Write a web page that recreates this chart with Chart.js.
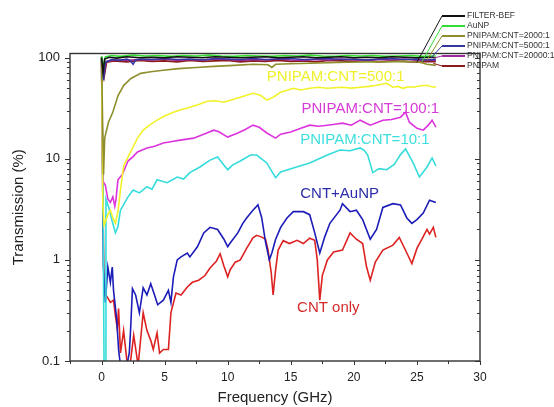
<!DOCTYPE html>
<html>
<head>
<meta charset="utf-8">
<title>Transmission</title>
<script src="https://cdn.jsdelivr.net/npm/chart.js@4.4.0/dist/chart.umd.min.js"></script>
<style>
  body { margin: 0; background: #fff; }
  #myChart { display: block; }
</style>
</head>
<body>
<canvas id="myChart" width="554" height="407"></canvas>
<script>
// fréquences (GHz) et transmissions (%) de chaque échantillon
let freqFilter = [0, 0.12, 0.25, 0.6, 1.2, 2, 3, 4, 5, 6, 7, 8, 9, 10, 11, 12, 13, 14, 15, 16, 17, 18, 19, 20, 21, 22, 23, 24, 25, 26, 26.5];
let transFilter = [100, 72, 97, 101, 99, 102, 100, 101, 100, 102, 101, 100, 102, 101, 100, 101, 102, 100, 101, 102, 100, 101, 102, 100, 101, 100, 102, 101, 100, 101, 100];

let freqAuNP = [0, 0.15, 0.3, 0.8, 1.5, 2.5, 3.5, 4.5, 5.5, 6.5, 7.5, 8.5, 9.5, 10.5, 11.5, 12.5, 13.5, 14.5, 15.5, 16.5, 17.5, 18.5, 19.5, 20.5, 21.5, 22.5, 23.5, 24.5, 25.5, 26.5];
let transAuNP = [104, 80, 102, 105, 103, 106, 104, 105, 103, 105, 104, 106, 104, 103, 105, 104, 103, 105, 104, 106, 104, 103, 105, 104, 105, 103, 104, 105, 103, 104];

let freq2000 = [0, 0.1, 0.16, 0.25, 0.55, 0.9, 1.3, 1.75, 2.3, 3.1, 3.9, 4.9, 6.1, 7.5, 8.9, 10.5, 12.0, 13.2, 13.5, 13.8, 15, 16.5, 18, 19.5, 21, 22.5, 24, 25.2, 25.8, 26.5];
let trans2000 = [100, 18, 7, 16, 23, 29, 42, 53, 62, 70, 72.5, 75, 78, 80, 82, 84, 86, 85, 80, 86, 87, 88, 89, 90, 91, 91, 92, 90, 86, 84];

let freq5000 = [0, 0.15, 0.3, 0.8, 1.4, 2.0, 2.3, 2.5, 2.7, 3.2, 4, 5, 6, 7, 8, 9, 10, 11, 12, 13, 14, 15, 16, 17, 18, 19, 20, 21, 22, 23, 24, 25, 26, 26.5];
let trans5000 = [100, 60, 90, 96, 94, 97, 93, 86, 95, 97, 96, 98, 96, 97, 95, 98, 97, 96, 98, 96, 97, 98, 96, 97, 98, 96, 97, 95, 97, 98, 96, 97, 95, 96];

let freq20000 = [0, 0.18, 0.35, 1, 2, 3, 4, 5, 6, 7, 8, 9, 10, 11, 12, 13, 14, 15, 16, 17, 18, 19, 20, 21, 22, 23, 24, 25, 26, 26.5];
let trans20000 = [100, 68, 92, 95, 94, 96, 95, 97, 94, 96, 95, 97, 96, 94, 96, 95, 97, 95, 94, 96, 95, 97, 95, 94, 96, 95, 97, 94, 95, 94];

let freqPnipam = [0, 0.2, 0.4, 1, 2, 3, 4, 5, 6, 7, 8, 9, 10, 11, 12, 13, 14, 15, 16, 17, 18, 19, 20, 21, 22, 23, 24, 25, 26, 26.5];
let transPnipam = [100, 64, 90, 93, 91, 94, 92, 93, 91, 94, 92, 93, 94, 91, 93, 92, 94, 92, 93, 91, 94, 93, 92, 94, 91, 93, 92, 90, 92, 91];

let freq500 = [0, 0.1, 0.2, 0.5, 0.7, 0.9, 1.1, 1.3, 1.5, 1.75, 2.3, 2.85, 3.3, 3.8, 4.4, 5.0, 5.7, 6.3, 7.0, 7.7, 8.4, 9.0, 9.7, 10.2, 11.0, 11.5, 12.0, 12.6, 13.1, 13.6, 14.2, 15.2, 15.8, 16.5, 17.2, 17.9, 18.5, 19.1, 19.8, 20.5, 21.2, 21.8, 22.6, 23.1, 23.5, 23.9, 24.3, 24.7, 25.2, 25.8, 26.3, 26.5];
let trans500 = [100, 3.5, 2.2, 2.8, 3.1, 2.6, 2.3, 3.0, 4.9, 8.5, 11.7, 16.0, 19.2, 21.5, 24.1, 26.5, 28.9, 30.5, 32.4, 34.5, 37.1, 37.5, 36.3, 38.0, 40.6, 42.5, 44.5, 42.5, 38.0, 40.6, 45.5, 49.8, 48, 49.8, 51, 49.8, 50.5, 51, 50, 51, 52, 53.4, 55.8, 51, 52, 49.8, 51.5, 51, 52.5, 53.4, 51, 52];

let freq100 = [0, 0.1, 0.3, 0.5, 0.7, 0.9, 1.05, 1.15, 1.3, 1.65, 2.1, 2.5, 2.85, 3.6, 4.2, 4.9, 5.6, 6.25, 7.3, 8.1, 8.9, 9.3, 10.0, 10.8, 11.4, 12.0, 12.5, 13.1, 13.8, 14.2, 15.0, 15.8, 16.5, 17.2, 17.9, 18.5, 19.1, 19.8, 20.5, 21.3, 22.3, 23.0, 23.7, 24.1, 24.4, 25.0, 25.5, 25.9, 26.2, 26.5];
let trans100 = [95, 6, 5.5, 4.0, 3.7, 4.2, 3.4, 4.0, 6.2, 7.0, 9.5, 10.5, 11.7, 12.8, 13.3, 14.3, 14.8, 15.3, 16.0, 17.5, 19.2, 18.5, 16.4, 18.0, 19.5, 21.5, 20.5, 18.0, 16.0, 17.5, 18.4, 20, 21.5, 21, 21.5, 22.0, 22.5, 21.5, 24.1, 21.5, 24.1, 24.5, 25.8, 28.9, 23.0, 20.0, 19.2, 21.5, 24.1, 20.6];

let freq10 = [0, 0.12, 0.2, 0.28, 0.35, 0.6, 0.85, 1.1, 1.3, 1.5, 2.1, 2.5, 3.0, 3.6, 4.0, 4.4, 5.2, 6.0, 6.5, 7.0, 7.8, 8.6, 9.2, 9.6, 10.0, 10.4, 11.0, 11.8, 12.3, 13.1, 13.8, 14.2, 15.2, 16.5, 17.9, 18.9, 19.7, 20.5, 20.8, 21.1, 21.5, 22.0, 22.6, 23.2, 23.7, 24.1, 24.7, 25.2, 25.8, 26.2, 26.5];
let trans10 = [95, 4.5, 0.08, 0.08, 4.0, 3.2, 2.4, 1.85, 2.13, 3.1, 4.2, 4.9, 4.6, 5.3, 5.0, 6.2, 5.8, 6.6, 6.3, 7.3, 8.3, 9.7, 10.4, 9.0, 7.8, 8.7, 9.5, 10.9, 10.9, 9.1, 6.5, 7.4, 8.1, 9.1, 10.9, 12.2, 12.0, 12.8, 12.2, 10.9, 7.3, 8.0, 7.8, 8.8, 11.0, 12.5, 9.1, 6.6, 8.3, 10.2, 8.5];

let freqCntAu = [0, 0.15, 0.3, 0.5, 0.7, 0.85, 0.95, 1.2, 1.35, 1.5, 2.0, 2.2, 2.3, 2.45, 2.7, 3.0, 3.3, 3.6, 3.9, 4.2, 4.45, 4.9, 5.3, 5.5, 5.7, 6.0, 6.3, 6.8, 7.0, 7.6, 8.1, 8.6, 9.2, 9.7, 10.0, 10.2, 10.8, 11.2, 11.5, 12.0, 12.4, 12.7, 13.0, 13.3, 13.5, 13.8, 14.2, 14.7, 15.2, 16.0, 16.5, 16.9, 17.3, 17.7, 18.1, 18.9, 19.1, 19.7, 20.2, 20.7, 21.3, 21.8, 22.3, 23.1, 23.7, 24.2, 24.6, 25.0, 25.5, 26.0, 26.5];
let transCntAu = [95, 0.85, 0.38, 0.85, 0.6, 0.85, 0.5, 0.26, 0.13, 0.09, 0.09, 0.12, 0.2, 0.52, 0.45, 0.3, 0.53, 0.45, 0.58, 0.45, 0.36, 0.4, 0.5, 0.38, 0.68, 1.0, 1.07, 1.17, 1.07, 1.35, 1.85, 2.1, 2.0, 1.6, 1.35, 1.47, 1.85, 2.3, 2.6, 3.1, 3.5, 2.6, 1.5, 1.0, 1.17, 1.6, 2.1, 2.6, 3.0, 3.0, 2.8, 1.85, 1.17, 1.7, 2.3, 3.1, 3.6, 3.0, 3.1, 2.5, 1.6, 2.0, 3.3, 3.6, 3.5, 2.6, 2.3, 2.5, 2.9, 3.9, 3.7];

let freqCnt = [0, 0.2, 0.35, 0.7, 0.95, 1.1, 1.25, 1.35, 1.5, 1.75, 2.05, 2.3, 2.55, 2.9, 3.3, 3.6, 3.9, 4.1, 4.4, 4.6, 4.9, 5.3, 5.5, 5.9, 6.3, 6.8, 7.2, 7.7, 8.2, 8.6, 9.1, 9.4, 9.7, 10.0, 10.2, 10.6, 11.0, 11.5, 12.0, 12.3, 12.7, 13.0, 13.2, 13.45, 13.6, 13.8, 14.0, 14.4, 14.9, 15.5, 16.0, 16.5, 16.9, 17.1, 17.3, 17.5, 17.9, 18.4, 19.1, 19.7, 20.2, 20.7, 21.0, 21.3, 21.7, 22.3, 23.1, 23.6, 24.2, 24.6, 25.0, 25.5, 25.8, 26.0, 26.3, 26.5];
let transCnt = [95, 0.45, 0.45, 0.38, 0.4, 0.28, 0.21, 0.33, 0.12, 0.2, 0.09, 0.1, 0.18, 0.09, 0.3, 0.2, 0.16, 0.13, 0.19, 0.12, 0.13, 0.13, 0.3, 0.47, 0.45, 0.54, 0.6, 0.63, 0.7, 0.83, 0.97, 1.15, 0.87, 0.68, 0.8, 0.95, 1.0, 1.3, 1.65, 1.75, 1.68, 1.6, 1.25, 0.75, 0.45, 0.8, 1.25, 1.55, 1.45, 1.56, 1.45, 1.64, 1.56, 1.0, 0.4, 0.7, 1.0, 1.2, 1.25, 1.85, 1.6, 1.45, 0.86, 0.63, 0.95, 1.25, 1.4, 1.67, 1.17, 0.92, 1.3, 1.7, 2.0, 1.8, 2.1, 1.67];

// graduations des axes
let freqTicks = [0, 5, 10, 15, 20, 25, 30];
let transTicks = [0.1, 1, 10, 100];

// étiquettes posées dans le graphique (position en GHz / %)
let noteText = ['PNIPAM:CNT=500:1', 'PNIPAM:CNT=100:1', 'PNIPAM:CNT=10:1', 'CNT+AuNP', 'CNT only'];
let noteFreq = [13.1, 15.85, 15.75, 15.75, 15.5];
let noteTrans = [64, 31.5, 15.3, 4.5, 0.335];
let noteColor = ['#f0f02a', '#d63ad6', '#3edede', '#2b2ba8', '#d42a2a'];

// bouts des traits de renvoi de la légende (GHz / %)
let leaderFreq = [25.0, 25.4, 25.8, 26.1, 26.3, 26.3];
let leaderTrans = [90, 91, 95, 99, 99, 88];

const font = 'Liberation Sans, Arial, sans-serif';

// transforme deux tableaux en points {x, y}
function toPoints(freq, trans){
    let points = [];
    for(let i=0; i<freq.length; i++){
        points.push({x: freq[i], y: trans[i]});
    }
    return points;
}

function serie(label, freq, trans, color){
    return {
        label: label,
        data: toPoints(freq, trans),
        borderColor: color,
        borderWidth: 1.6,
        pointRadius: 0,
        tension: 0,
        fill: false
    };
}

let datasets = [
    serie('FILTER-BEF', freqFilter, transFilter, '#111111'),
    serie('AuNP', freqAuNP, transAuNP, '#35dd35'),
    serie('PNIPAM:CNT=2000:1', freq2000, trans2000, '#8e8e2c'),
    serie('PNIPAM:CNT=5000:1', freq5000, trans5000, '#3636a0'),
    serie('PNIPAM:CNT=20000:1', freq20000, trans20000, '#9a2a9a'),
    serie('PNIPAM', freqPnipam, transPnipam, '#8b1a1a'),
    serie('PNIPAM:CNT=500:1', freq500, trans500, '#f2f22a'),
    serie('PNIPAM:CNT=100:1', freq100, trans100, '#dd33dd'),
    serie('PNIPAM:CNT=10:1', freq10, trans10, '#35dcdc'),
    serie('CNT+AuNP', freqCntAu, transCntAu, '#1c1cb8'),
    serie('CNT only', freqCnt, transCnt, '#dd2222')
];

// cadre, petites graduations, titres d'axes, étiquettes et légende
const decorPlugin = {
    id: 'decor',
    afterDraw(chart){
        const ctx = chart.ctx;
        const xs = chart.scales.x;
        const ys = chart.scales.y;
        const a = chart.chartArea;
        ctx.save();

        // cadre
        ctx.strokeStyle = '#333';
        ctx.lineWidth = 1.4;
        ctx.strokeRect(a.left, a.top, a.right - a.left, a.bottom - a.top);

        // graduations de l'axe x (majeures tous les 5, mineures à mi-chemin)
        ctx.lineWidth = 1;
        ctx.beginPath();
        for(let f = -2.5; f <= 30; f += 2.5){
            let px = Math.round(xs.getPixelForValue(f)) + 0.5;
            let len = (f % 5 === 0) ? 4 : 3;
            ctx.moveTo(px, a.bottom);
            ctx.lineTo(px, a.bottom + len);
        }
        // graduations logarithmiques à gauche (dehors) et à droite (dedans)
        for(let d = 0.1; d < 100; d *= 10){
            for(let k = 1; k <= 9; k++){
                let v = d * k;
                let py = Math.round(ys.getPixelForValue(v)) + 0.5;
                let len = (k === 1) ? 5 : 3;
                ctx.moveTo(a.left - len, py);
                ctx.lineTo(a.left, py);
                ctx.moveTo(a.right, py);
                ctx.lineTo(a.right - len, py);
            }
        }
        let p100 = Math.round(ys.getPixelForValue(100)) + 0.5;
        ctx.moveTo(a.left - 5, p100);
        ctx.lineTo(a.left, p100);
        ctx.moveTo(a.right, p100);
        ctx.lineTo(a.right - 5, p100);
        ctx.stroke();

        // titres des axes
        ctx.fillStyle = '#222';
        ctx.font = '15px ' + font;
        ctx.textAlign = 'center';
        ctx.textBaseline = 'middle';
        ctx.fillText('Frequency (GHz)', (a.left + a.right) / 2, 398);
        ctx.save();
        ctx.translate(19, (a.top + a.bottom) / 2);
        ctx.rotate(-Math.PI / 2);
        ctx.fillText('Transmission (%)', 0, 0);
        ctx.restore();

        // étiquettes des courbes
        ctx.textAlign = 'left';
        for(let i=0; i<noteText.length; i++){
            ctx.fillStyle = noteColor[i];
            ctx.fillText(noteText[i], xs.getPixelForValue(noteFreq[i]), ys.getPixelForValue(noteTrans[i]));
        }

        // légende en haut à droite avec ses traits de renvoi
        ctx.font = '8.5px ' + font;
        for(let i=0; i<6; i++){
            let ds = chart.data.datasets[i];
            let ly = 16 + i * 10;
            ctx.strokeStyle = ds.borderColor;
            ctx.lineWidth = 1;
            ctx.beginPath();
            ctx.moveTo(442, ly);
            ctx.lineTo(xs.getPixelForValue(leaderFreq[i]), ys.getPixelForValue(leaderTrans[i]));
            ctx.stroke();
            ctx.lineWidth = 2;
            ctx.beginPath();
            ctx.moveTo(442, ly);
            ctx.lineTo(465, ly);
            ctx.stroke();
            ctx.fillStyle = '#333';
            ctx.fillText(ds.label, 467, ly);
        }
        ctx.restore();
    }
};

let chart = new Chart('myChart', {
    type: 'line',
    data: { datasets: datasets },
    options: {
        responsive: false,
        animation: false,
        devicePixelRatio: 1,
        layout: { padding: { top: 53.5, right: 74, left: 0, bottom: 0 } },
        plugins: {
            legend: { display: false },
            tooltip: { enabled: false }
        },
        scales: {
            x: {
                type: 'linear',
                min: -2.5,
                max: 30,
                grid: { display: false, drawTicks: false },
                border: { display: false },
                ticks: { font: { family: font, size: 12 }, color: '#222', padding: 9, autoSkip: false },
                afterBuildTicks: (scale) => { scale.ticks = freqTicks.map(v => ({ value: v })); },
                afterFit: (scale) => { scale.height = 46; }
            },
            y: {
                type: 'logarithmic',
                min: 0.1,
                max: 110,
                grid: { display: false, drawTicks: false },
                border: { display: false },
                ticks: { font: { family: font, size: 13 }, color: '#222', padding: 10, autoSkip: false,
                         callback: (value) => value.toString() },
                afterBuildTicks: (scale) => { scale.ticks = transTicks.map(v => ({ value: v })); },
                afterFit: (scale) => { scale.width = 70; }
            }
        }
    },
    plugins: [decorPlugin]
});
</script>
</body>
</html>
